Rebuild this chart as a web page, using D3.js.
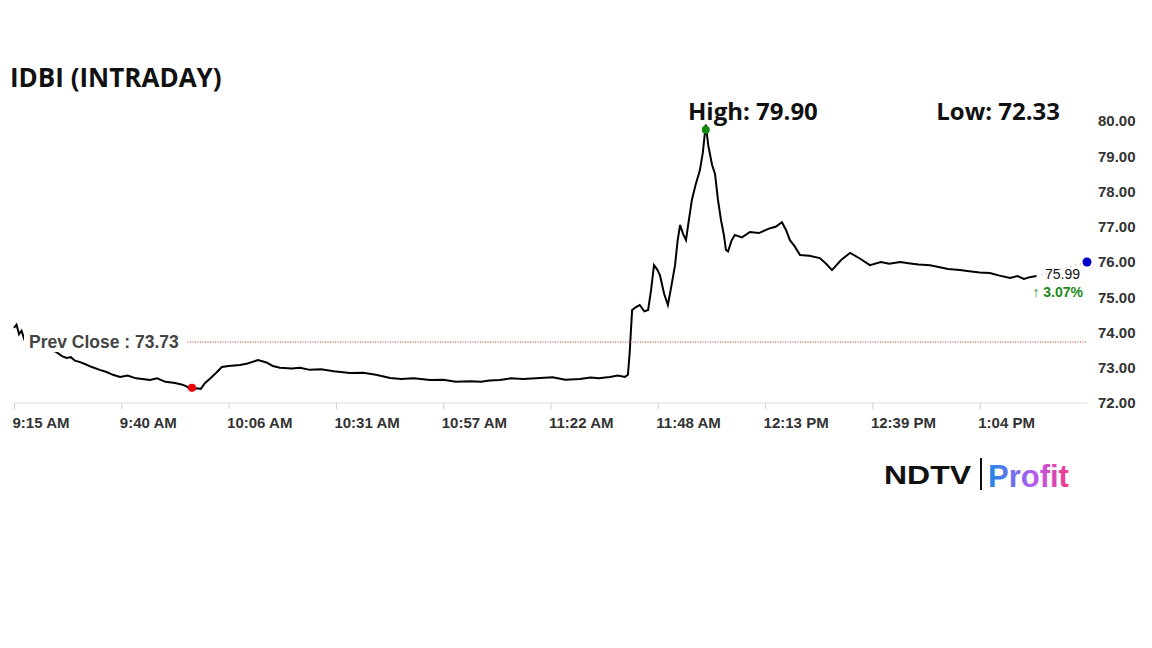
<!DOCTYPE html>
<html>
<head>
<meta charset="utf-8">
<script src="https://cdn.jsdelivr.net/npm/d3@7"></script>
<style>
  body { margin: 0; background: #fff; }
</style>
</head>
<body>
<div id="chart"></div>
<script>
// minutes after 9:15 and price
var minutes = [0, 0.6, 1.2, 1.8, 2.4, 3, 4, 6, 8, 10, 11.4, 12.5, 13.5, 14.5, 15.7, 17, 18.5, 20.4, 22, 23.5, 25.2, 27, 29, 30.5, 32.3, 34, 36, 38.3, 40, 41, 42.3, 43.5, 44.4, 45.4, 46.5, 48, 49.4, 51, 53.7, 55.5, 58, 60, 61.5, 63.2, 66, 68, 70.3, 73, 76, 79.8, 83, 86, 89.4, 92, 95, 98.9, 102, 105, 108.4, 111, 113, 115.5, 118, 121, 125, 128, 131, 134.5, 137, 139, 141.6, 143.5, 145.2, 145.9, 146.3, 146.9, 147.8, 148.7, 149.8, 150.7, 151.4, 152.1, 152.8, 153.5, 154.5, 155.4, 156.2, 157.1, 157.7, 158.3, 159, 159.7, 160.4, 161.1, 162, 163, 163.7, 164.4, 165, 165.9, 166.6, 167.3, 168, 168.7, 169.2, 169.7, 170.5, 171.3, 173, 174.9, 177, 179.7, 181, 182.5, 183.5, 184.4, 185.5, 186.8, 189, 191.5, 193, 194.4, 196.5, 198.7, 201, 203.4, 206, 208, 210.6, 213, 215, 217.7, 220, 222, 224.8, 227, 229.5, 231.9, 234, 236.7, 238.5, 240, 241.4, 243];
var prices = [74.13, 74.22, 73.95, 74.05, 73.82, 73.9, 73.72, 73.6, 73.52, 73.45, 73.33, 73.28, 73.3, 73.2, 73.16, 73.1, 73.02, 72.94, 72.88, 72.8, 72.74, 72.78, 72.7, 72.68, 72.65, 72.7, 72.6, 72.57, 72.52, 72.47, 72.36, 72.42, 72.4, 72.57, 72.68, 72.85, 73.02, 73.05, 73.08, 73.12, 73.22, 73.15, 73.05, 73.0, 72.98, 73.0, 72.94, 72.96, 72.9, 72.85, 72.86, 72.8, 72.71, 72.68, 72.7, 72.65, 72.66, 72.6, 72.62, 72.6, 72.64, 72.65, 72.7, 72.68, 72.71, 72.73, 72.66, 72.68, 72.72, 72.7, 72.74, 72.78, 72.74, 72.8, 73.4, 74.64, 74.72, 74.78, 74.6, 74.64, 75.2, 75.91, 75.8, 75.63, 75.1, 74.78, 75.3, 75.91, 76.6, 77.05, 76.8, 76.62, 77.2, 77.76, 78.2, 78.6, 79.1, 79.9, 79.3, 78.75, 78.5, 77.76, 77.2, 76.77, 76.34, 76.3, 76.6, 76.77, 76.7, 76.85, 76.82, 76.96, 77.0, 77.13, 76.9, 76.62, 76.45, 76.2, 76.18, 76.11, 75.95, 75.77, 76.05, 76.26, 76.1, 75.91, 76.0, 75.95, 76.0, 75.96, 75.93, 75.91, 75.85, 75.8, 75.77, 75.74, 75.7, 75.69, 75.62, 75.55, 75.6, 75.52, 75.57, 75.6];
var xTickMinutes = [0, 25.5, 51, 76.5, 102, 127.5, 153, 178.5, 204, 229.5];
var xTickLabels = ['9:15 AM', '9:40 AM', '10:06 AM', '10:31 AM', '10:57 AM', '11:22 AM', '11:48 AM', '12:13 PM', '12:39 PM', '1:04 PM'];
var yTicks = [72, 73, 74, 75, 76, 77, 78, 79, 80];
var prevClose = 73.73, high = 79.90, low = 72.33, lastPrice = 75.99, change = 3.07;
var lowAt = 42.3, highAt = 164.4, endAt = 255;

var W = 1152, H = 648;
var ARIAL = 'Arial, "Liberation Sans", sans-serif';
var TITLE = '"Open Sans", "Noto Sans", sans-serif';
var svg = d3.select('#chart').append('svg').attr('width', W).attr('height', H);

var x = d3.scaleLinear().domain([0, 255]).range([14, 1087]);
var y = d3.scaleLinear().domain([72, 80]).range([403, 121]);

svg.append('text').attr('x', 10).attr('y', 87).attr('font-size', 26).attr('font-weight', 'bold')
  .attr('font-family', TITLE).attr('fill', '#111').text('IDBI (INTRADAY)');
svg.append('text').attr('x', 688).attr('y', 120).attr('font-size', 24).attr('font-weight', 'bold')
  .attr('font-family', TITLE).attr('fill', '#111').text('High: ' + high.toFixed(2));
svg.append('text').attr('x', 1060).attr('y', 120).attr('text-anchor', 'end').attr('font-size', 24)
  .attr('font-family', TITLE).attr('font-weight', 'bold').attr('fill', '#111').text('Low: ' + low.toFixed(2));

// axis line
svg.append('line').attr('x1', x(0)).attr('x2', x(255)).attr('y1', y(72)).attr('y2', y(72))
  .attr('stroke', '#ddd');

var xAxis = svg.append('g').attr('transform', 'translate(0,' + y(72) + ')')
  .call(d3.axisBottom(x).tickValues(xTickMinutes).tickSize(6).tickFormat(function(d, i) { return xTickLabels[i]; }));
xAxis.select('.domain').remove();
xAxis.selectAll('line').attr('stroke', '#ccc');
xAxis.selectAll('text').attr('font-size', 15).attr('font-weight', 'bold').attr('fill', '#333')
  .attr('font-family', ARIAL).attr('dy', '1.05em').attr('text-anchor', 'start').attr('dx', -2);

var yAxis = svg.append('g').attr('transform', 'translate(1087,0)')
  .call(d3.axisRight(y).tickValues(yTicks).tickSize(0).tickPadding(11).tickFormat(d3.format('.2f')));
yAxis.select('.domain').remove();
yAxis.selectAll('text').attr('font-size', 15).attr('font-weight', 'bold').attr('fill', '#333')
  .attr('font-family', ARIAL);

var data = minutes.map(function(m, i) { return [m, prices[i]]; });
var line = d3.line().x(function(d) { return x(d[0]); }).y(function(d) { return y(d[1]); });
svg.append('path').datum(data).attr('d', line).attr('fill', 'none').attr('stroke', '#000').attr('stroke-width', 2);

// prev close
svg.append('line').attr('x1', 25).attr('x2', x(255)).attr('y1', y(prevClose)).attr('y2', y(prevClose))
  .attr('stroke', '#c0392b').attr('stroke-dasharray', '1,1.5').attr('stroke-width', 1);
svg.append('rect').attr('x', 24).attr('y', y(prevClose) - 12).attr('width', 162).attr('height', 22).attr('fill', '#fff');
svg.append('text').attr('x', 29).attr('y', y(prevClose) + 6).attr('font-size', 17.5).attr('font-weight', 'bold')
  .attr('font-family', ARIAL).attr('fill', '#444').text('Prev Close : ' + prevClose.toFixed(2));

// last price connector
svg.append('line').attr('x1', x(243)).attr('x2', x(endAt)).attr('y1', y(75.6)).attr('y2', y(76))
  .attr('stroke', '#999').attr('stroke-dasharray', '1,4');
svg.append('circle').attr('cx', x(endAt)).attr('cy', y(76)).attr('r', 4.5).attr('fill', '#0000cc');
svg.append('text').attr('x', 1080).attr('y', y(75.99) + 17).attr('text-anchor', 'end').attr('font-size', 14)
  .attr('font-family', ARIAL).attr('fill', '#111').text(lastPrice.toFixed(2));
svg.append('text').attr('x', 1083).attr('y', y(75.99) + 35).attr('text-anchor', 'end').attr('font-size', 14)
  .attr('font-weight', 'bold').attr('font-family', ARIAL).attr('fill', '#1a8a1a')
  .text('\u2191 ' + change.toFixed(2) + '%');

svg.append('circle').attr('cx', x(lowAt)).attr('cy', y(72.43)).attr('r', 4).attr('fill', '#e00');
svg.append('circle').attr('cx', x(highAt)).attr('cy', y(79.75)).attr('r', 4).attr('fill', '#138a13');

// logo
var defs = svg.append('defs');
var grad = defs.append('linearGradient').attr('id', 'pg');
grad.append('stop').attr('offset', '0%').attr('stop-color', '#1e88e5');
grad.append('stop').attr('offset', '55%').attr('stop-color', '#b05cf0');
grad.append('stop').attr('offset', '100%').attr('stop-color', '#f53a8a');
svg.append('text').attr('x', 884).attr('y', 484).attr('font-size', 25).attr('font-weight', 900)
  .attr('font-family', ARIAL).attr('fill', '#111')
  .attr('textLength', 87).attr('lengthAdjust', 'spacingAndGlyphs').text('NDTV');
svg.append('rect').attr('x', 980).attr('y', 458).attr('width', 2).attr('height', 32).attr('fill', '#111');
svg.append('text').attr('x', 988).attr('y', 487).attr('font-size', 31).attr('font-weight', 'bold')
  .attr('font-family', ARIAL).attr('fill', 'url(#pg)').text('Profit');
</script>
</body>
</html>
